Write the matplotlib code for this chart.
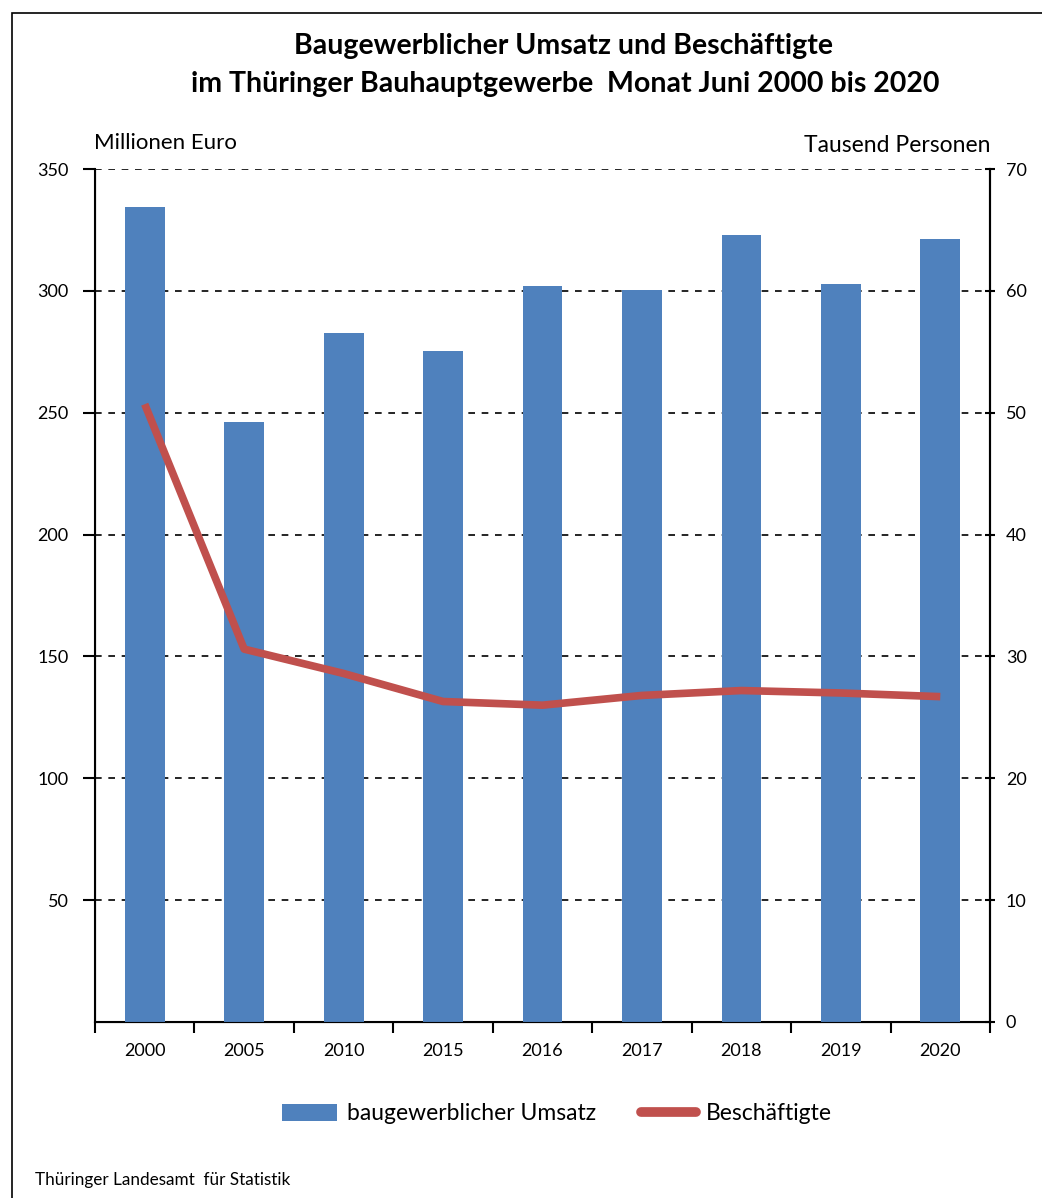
import matplotlib
matplotlib.use("Agg")
import matplotlib.pyplot as plt
from matplotlib.patches import Rectangle
from matplotlib.lines import Line2D
from matplotlib.patches import Patch
import numpy as np

plt.rcParams['font.family'] = ['Lato', 'DejaVu Sans']

years = ["2000", "2005", "2010", "2015", "2016", "2017", "2018", "2019", "2020"]
umsatz = [334.4, 246.2, 282.7, 275.3, 302.0, 300.4, 322.9, 302.8, 321.3]
beschaeftigte = [50.7, 30.6, 28.6, 26.3, 26.0, 26.8, 27.2, 27.0, 26.7]
left_ticks = [50, 100, 150, 200, 250, 300, 350]
right_ticks = [0, 10, 20, 30, 40, 50, 60, 70]

blue = "#4F81BD"
red = "#C0504D"

fig = plt.figure(figsize=(10.42, 11.98), dpi=100)
ax = fig.add_axes([95/1042, (1198-1022)/1198, (990-95)/1042, (1022-169)/1198])
ax2 = ax.twinx()

x = np.arange(len(years))
ax.bar(x, umsatz, width=0.4, color=blue, zorder=3)
ax.set_xlim(-0.5, len(years) - 0.5)
ax.set_ylim(0, 350)
ax.set_yticks(left_ticks)
ax.set_yticklabels([str(t) for t in left_ticks], fontsize=13)
ax.yaxis.grid(True, linestyle=(0, (4, 4)), color="black", linewidth=1.2, zorder=1)
ax.set_axisbelow(True)
ax.set_xticks(x)
ax.set_xticklabels(years, fontsize=13)
ax.tick_params(axis='x', length=0, pad=15)
ax.set_xticks(np.arange(-0.5, len(years)), minor=True)
ax.tick_params(axis='x', which='minor', length=8, width=1.5, direction='out')
ax.tick_params(axis='y', length=9, width=1.5, direction='out', pad=10)
for s in ['top']:
    ax.spines[s].set_visible(False)
for s in ['left', 'bottom', 'right']:
    ax.spines[s].set_linewidth(1.5)

ax2.plot(x, beschaeftigte, color=red, linewidth=5.5, solid_capstyle='butt', zorder=4)
ax2.set_ylim(0, 70)
ax2.set_yticks(right_ticks)
ax2.set_yticklabels([str(t) for t in right_ticks], fontsize=13)
ax2.tick_params(axis='y', length=7, width=1.5, direction='inout', pad=8)
ax2.spines['top'].set_visible(False)
ax2.spines['right'].set_linewidth(1.5)

fig.text(563/1042, 1 - 46/1198, "Baugewerblicher Umsatz und Beschäftigte",
         ha='center', va='center', fontsize=20.5, fontweight='bold')
fig.text(565/1042, 1 - 84/1198, "im Thüringer Bauhauptgewerbe  Monat Juni 2000 bis 2020",
         ha='center', va='center', fontsize=20.5, fontweight='bold')
fig.text(94/1042, 1 - 143/1198, "Millionen Euro", ha='left', va='center', fontsize=16)
fig.text(991/1042, 1 - 145/1198, "Tausend Personen", ha='right', va='center', fontsize=16.5)
fig.text(35/1042, 1 - 1180/1198, "Thüringer Landesamt  für Statistik", ha='left', va='center', fontsize=12.3)

handles = [Patch(facecolor=blue, edgecolor='none'),
           Line2D([0], [0], color=red, linewidth=7, solid_capstyle='round')]
fig.legend(handles, ["baugewerblicher Umsatz", "Beschäftigte"],
           loc='center', bbox_to_anchor=(557/1042, 1 - 1114/1198), ncol=2,
           frameon=False, fontsize=16.5, handlelength=2.4, handleheight=0.7,
           columnspacing=2.0, handletextpad=0.4)

fig.patches.append(Rectangle((12/1042, -0.1), 1.2, 1 - 13/1198 + 0.1,
                             transform=fig.transFigure, fill=False,
                             edgecolor='black', linewidth=1.2))

fig.savefig("out.png", dpi=100)
